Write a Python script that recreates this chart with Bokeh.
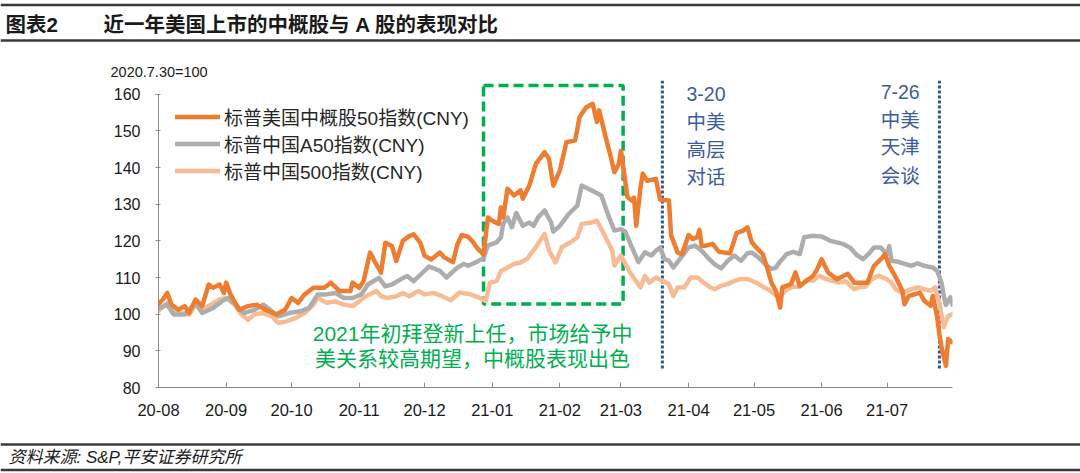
import pandas as pd
from bokeh.plotting import figure
from bokeh.models import (Range1d, FixedTicker, DatetimeTickFormatter, Legend, LegendItem)
from bokeh.layouts import column
from bokeh.embed import file_html
from bokeh.resources import INLINE
from bokeh.core.properties import value

FONT = "'Liberation Sans', 'Noto Sans CJK SC'"

# ---------------- data ----------------
cn50_dates = ["2020-07-31","2020-08-03","2020-08-05","2020-08-07","2020-08-10","2020-08-13","2020-08-15","2020-08-18",
    "2020-08-21","2020-08-24","2020-08-26","2020-08-29","2020-08-31","2020-09-01","2020-09-03","2020-09-07",
    "2020-09-11","2020-09-15","2020-09-19","2020-09-24","2020-09-28","2020-10-01","2020-10-04","2020-10-07",
    "2020-10-11","2020-10-16","2020-10-19","2020-10-23","2020-10-28","2020-10-29","2020-11-01","2020-11-03",
    "2020-11-06","2020-11-08","2020-11-11","2020-11-13","2020-11-16","2020-11-18","2020-11-21","2020-11-24",
    "2020-11-26","2020-11-29","2020-12-01","2020-12-04","2020-12-08","2020-12-10","2020-12-14","2020-12-16",
    "2020-12-18","2020-12-21","2020-12-23","2020-12-25","2020-12-28","2020-12-30","2021-01-01","2021-01-04",
    "2021-01-05","2021-01-06","2021-01-08","2021-01-11","2021-01-14","2021-01-15","2021-01-18","2021-01-21",
    "2021-01-25","2021-01-27","2021-01-29","2021-02-01","2021-02-04","2021-02-08","2021-02-10","2021-02-13",
    "2021-02-16","2021-02-18","2021-02-19","2021-02-22","2021-02-24","2021-02-26","2021-02-28","2021-03-01",
    "2021-03-04","2021-03-06","2021-03-07","2021-03-08","2021-03-10","2021-03-11","2021-03-13","2021-03-17",
    "2021-03-19","2021-03-23","2021-03-24","2021-03-27","2021-03-29","2021-04-01","2021-04-03","2021-04-05",
    "2021-04-06","2021-04-07","2021-04-09","2021-04-12","2021-04-15","2021-04-20","2021-04-23","2021-04-26",
    "2021-04-28","2021-04-30","2021-05-02","2021-05-05","2021-05-07","2021-05-09","2021-05-11","2021-05-13",
    "2021-05-14","2021-05-18","2021-05-20","2021-05-22","2021-05-25","2021-05-28","2021-05-30","2021-06-01",
    "2021-06-04","2021-06-08","2021-06-13","2021-06-16","2021-06-22","2021-06-25","2021-06-29","2021-06-30",
    "2021-07-02","2021-07-05","2021-07-08","2021-07-09","2021-07-11","2021-07-14","2021-07-16","2021-07-18",
    "2021-07-21","2021-07-22","2021-07-24","2021-07-25","2021-07-26","2021-07-28","2021-07-29","2021-07-31"]
cn50_values = [102.2,104.0,105.8,102.6,101.2,102.2,100.3,104.0,
    102.2,108.1,107.2,108.1,105.8,108.6,105.4,101.2,
    102.2,102.6,101.2,99.9,101.2,104.4,103.1,105.4,
    107.2,107.2,108.6,106.3,106.3,108.6,107.2,109.0,
    116.8,114.5,111.3,119.5,118.6,114.5,120.0,121.3,
    121.8,119.5,115.9,114.9,116.8,115.5,114.2,119.0,
    121.6,121.1,119.8,118.1,116.3,126.4,125.5,124.6,
    129.1,126.4,134.2,132.4,133.8,131.5,135.1,141.0,
    144.2,142.4,135.1,139.2,146.9,147.4,153.7,156.4,
    157.4,152.4,155.6,148.3,143.7,138.7,141.0,144.6,
    131.9,131.0,131.8,124.1,134.6,138.3,136.4,136.9,
    131.2,131.0,121.5,116.8,116.4,121.6,120.5,121.0,
    123.0,118.7,118.7,119.2,117.0,116.6,122.1,122.8,
    123.7,119.6,118.2,116.4,112.7,108.6,106.4,101.8,
    107.3,108.2,111.4,107.7,109.1,110.4,112.3,115.0,
    111.4,109.5,111.0,108.6,108.6,113.2,115.5,116.4,
    113.2,110.1,106.4,102.7,105.0,105.5,105.9,103.7,
    102.3,105.0,99.1,94.5,90.9,85.9,93.2,92.3]

a50_dates = ["2020-07-31","2020-08-05","2020-08-08","2020-08-13","2020-08-18","2020-08-21","2020-08-26","2020-08-30",
    "2020-09-02","2020-09-06","2020-09-09","2020-09-14","2020-09-18","2020-09-22","2020-09-25","2020-09-30",
    "2020-10-05","2020-10-09","2020-10-13","2020-10-17","2020-10-21","2020-10-25","2020-10-29","2020-11-02",
    "2020-11-05","2020-11-10","2020-11-13","2020-11-16","2020-11-20","2020-11-23","2020-11-26","2020-11-30",
    "2020-12-03","2020-12-08","2020-12-11","2020-12-16","2020-12-19","2020-12-21","2020-12-25","2020-12-28",
    "2020-12-30","2021-01-03","2021-01-05","2021-01-06","2021-01-08","2021-01-10","2021-01-12","2021-01-15",
    "2021-01-18","2021-01-20","2021-01-22","2021-01-25","2021-01-28","2021-01-29","2021-02-01","2021-02-05",
    "2021-02-09","2021-02-11","2021-02-17","2021-02-20","2021-02-23","2021-02-26","2021-03-01","2021-03-03",
    "2021-03-06","2021-03-09","2021-03-12","2021-03-15","2021-03-17","2021-03-19","2021-03-21","2021-03-23",
    "2021-03-25","2021-03-28","2021-04-01","2021-04-04","2021-04-07","2021-04-10","2021-04-13","2021-04-16",
    "2021-04-19","2021-04-22","2021-04-25","2021-04-28","2021-04-30","2021-05-03","2021-05-06","2021-05-09",
    "2021-05-11","2021-05-13","2021-05-16","2021-05-19","2021-05-22","2021-05-24","2021-05-28","2021-06-01",
    "2021-06-05","2021-06-08","2021-06-11","2021-06-14","2021-06-17","2021-06-20","2021-06-23","2021-06-25",
    "2021-06-28","2021-07-01","2021-07-02","2021-07-03","2021-07-06","2021-07-09","2021-07-12","2021-07-15",
    "2021-07-18","2021-07-22","2021-07-24","2021-07-26","2021-07-27","2021-07-28","2021-07-30","2021-07-31"]
a50_values = [101.3,102.6,99.9,99.9,103.1,100.3,101.7,103.5,
    104.4,102.2,100.3,101.2,102.6,100.8,99.4,100.3,
    100.8,101.7,105.4,105.4,105.8,104.4,104.4,105.4,
    108.1,109.9,107.6,108.1,109.5,110.4,109.0,111.3,
    113.0,111.8,110.0,112.7,113.7,113.2,114.3,115.3,
    118.7,119.6,121.0,124.6,126.4,123.7,127.6,124.1,
    125.0,124.1,126.4,128.3,125.0,122.5,124.1,127.3,
    129.6,135.1,133.3,132.4,127.3,122.8,123.2,122.5,
    118.3,114.2,116.9,116.0,117.3,118.2,115.0,114.6,
    112.7,115.0,118.2,118.7,117.3,115.3,113.6,112.5,
    114.6,116.0,114.6,116.6,116.8,115.5,113.7,112.3,
    112.7,114.4,116.4,117.0,116.4,121.0,121.4,121.2,
    120.0,119.6,119.1,118.2,116.2,115.0,116.7,118.2,
    118.2,116.4,118.6,114.6,114.3,113.7,113.2,113.9,
    113.2,112.7,111.8,108.5,105.0,102.5,104.6,102.6]

c500_dates = ["2020-07-31","2020-08-05","2020-08-07","2020-08-12","2020-08-15","2020-08-18","2020-08-21","2020-08-25",
    "2020-08-29","2020-09-01","2020-09-05","2020-09-08","2020-09-11","2020-09-14","2020-09-18","2020-09-22",
    "2020-09-25","2020-09-29","2020-10-03","2020-10-07","2020-10-11","2020-10-13","2020-10-17","2020-10-21",
    "2020-10-25","2020-10-29","2020-11-01","2020-11-04","2020-11-09","2020-11-11","2020-11-14","2020-11-18",
    "2020-11-21","2020-11-24","2020-11-28","2020-12-01","2020-12-05","2020-12-09","2020-12-13","2020-12-17",
    "2020-12-22","2020-12-26","2020-12-29","2020-12-31","2021-01-03","2021-01-05","2021-01-08","2021-01-11",
    "2021-01-14","2021-01-17","2021-01-21","2021-01-25","2021-01-27","2021-01-30","2021-02-02","2021-02-06",
    "2021-02-09","2021-02-11","2021-02-16","2021-02-18","2021-02-22","2021-02-25","2021-02-26","2021-03-01",
    "2021-03-05","2021-03-08","2021-03-10","2021-03-12","2021-03-14","2021-03-17","2021-03-20","2021-03-23",
    "2021-03-25","2021-03-27","2021-03-30","2021-04-02","2021-04-05","2021-04-08","2021-04-11","2021-04-13",
    "2021-04-16","2021-04-19","2021-04-22","2021-04-25","2021-04-28","2021-05-02","2021-05-05","2021-05-08",
    "2021-05-11","2021-05-14","2021-05-16","2021-05-19","2021-05-22","2021-05-25","2021-05-28","2021-05-31",
    "2021-06-03","2021-06-06","2021-06-09","2021-06-12","2021-06-16","2021-06-18","2021-06-21","2021-06-24",
    "2021-06-27","2021-07-01","2021-07-03","2021-07-05","2021-07-08","2021-07-11","2021-07-15","2021-07-18",
    "2021-07-21","2021-07-23","2021-07-25","2021-07-27","2021-07-29","2021-07-31"]
c500_values = [100.3,103.1,101.2,100.3,99.9,102.6,101.2,102.6,
    104.0,104.4,102.6,99.9,98.5,99.9,100.3,99.4,
    97.6,98.1,99.0,100.3,102.6,104.4,103.1,103.5,
    102.6,102.2,103.5,104.9,106.3,104.9,104.4,104.9,
    105.8,104.9,106.3,105.4,105.8,104.9,103.8,105.9,
    105.4,104.5,103.6,108.6,109.1,111.8,112.7,113.7,
    114.1,115.1,118.3,121.9,117.4,114.1,118.3,119.6,
    121.0,124.6,125.1,125.5,121.0,117.4,113.3,116.0,
    111.5,109.0,107.3,110.4,108.6,110.0,109.1,108.2,
    105.0,107.3,107.3,110.0,110.0,108.6,107.3,106.8,
    107.8,108.2,109.1,109.6,109.6,108.6,107.5,106.6,
    105.2,105.5,106.8,107.5,107.5,109.3,109.1,110.5,
    109.6,109.1,108.6,109.0,106.8,107.3,107.5,109.5,
    110.5,109.5,108.6,106.8,105.8,106.6,107.3,106.8,
    106.4,107.3,103.0,96.5,99.5,100.0]

series_names = ["标普美国中概股50指数(CNY)", "标普中国A50指数(CNY)", "标普中国500指数(CNY)"]
series_colors = ["#ED7D31", "#ADADAD", "#F6BC96"]

month_ticks = ["2020-08-01","2020-09-01","2020-10-01","2020-11-01","2020-12-01","2021-01-01",
               "2021-02-01","2021-03-01","2021-04-01","2021-05-01","2021-06-01","2021-07-01"]
y_ticks = [80, 90, 100, 110, 120, 130, 140, 150, 160]
y_unit_text = "2020.7.30=100"

box_dates = ["2020-12-28", "2021-03-02"]
box_values = [102.8, 162.4]
box_note = ["2021年初拜登新上任，市场给予中", "美关系较高期望，中概股表现出色"]
box_note_date = "2020-12-23"
box_note_values = [94.7, 87.9]

event_dates = ["2021-03-20", "2021-07-25"]
event_span = [85.2, 164.2]
event_label_dates = ["2021-04-09", "2021-07-07"]
event_labels = [["3-20", "中美", "高层", "对话"], ["7-26", "中美", "天津", "会谈"]]
event_label_values = [[160.1, 152.4, 144.9, 137.4], [160.5, 153.1, 145.5, 137.8]]

title_texts = ["图表2", "近一年美国上市的中概股与 A 股的表现对比"]
source_text = "资料来源: S&P,平安证券研究所"

W = 1080
TOP_H = 80
MAIN_H = 350
FOOT_H = 43
Y_TOP = 80 + (387 - TOP_H) / 3.666   # value at frame top edge


def banner(h):
    b = figure(width=W, height=h, x_range=Range1d(0, W), y_range=Range1d(h, 0),
               x_axis_type=None, y_axis_type=None, output_backend="svg",
               toolbar_location=None, min_border=0, min_border_left=0,
               min_border_right=0, min_border_top=0, min_border_bottom=0)
    b.frame_align = False
    b.outline_line_color = None
    return b


# ---------------- title banner ----------------
t = banner(TOP_H)
t.segment(x0=[0, 0], y0=[4.5, 40], x1=[W, W], y1=[4.5, 40],
          line_color="#3a3a3a", line_width=2.5)
t.text(x=[5, 103], y=[23.5, 23.5], text=title_texts,
       text_font=value(FONT), text_font_size="20.5px", text_font_style="bold",
       text_baseline="middle", text_align="left", text_color="#1a1a1a")
t.text(x=[110], y=[79], text=[y_unit_text], text_font=value(FONT),
       text_font_size="14.5px", text_baseline="bottom", text_align="left",
       text_color="#1a1a1a")

# ---------------- main chart ----------------
p = figure(width=W, height=MAIN_H, x_axis_type="datetime",
           x_range=Range1d(pd.Timestamp("2020-08-01"), pd.Timestamp("2021-07-31")),
           y_range=Range1d(80, Y_TOP), output_backend="svg", toolbar_location=None,
           min_border_left=158, min_border_right=128, min_border_top=0,
           min_border_bottom=TOP_H + MAIN_H - 387)
p.frame_align = False
p.outline_line_color = None
p.xgrid.visible = False
p.ygrid.visible = False

# green dashed box
p.quad(left=[pd.Timestamp(box_dates[0])], right=[pd.Timestamp(box_dates[1])],
       bottom=[box_values[0]], top=[box_values[1]], fill_color=None,
       line_color="#00B050", line_width=3.5, line_dash="10 5")

# event dotted lines
ev = pd.to_datetime(event_dates)
p.segment(x0=ev, y0=[event_span[0]] * 2, x1=ev, y1=[event_span[1]] * 2,
          line_color="#2F5597", line_width=3, line_dash="3 2")

# series (light first so orange is on top)
r500 = p.line(pd.to_datetime(c500_dates), c500_values, line_color=series_colors[2],
              line_width=4.5, line_join="round", line_cap="round")
ra50 = p.line(pd.to_datetime(a50_dates), a50_values, line_color=series_colors[1],
              line_width=4.5, line_join="round", line_cap="round")
r50 = p.line(pd.to_datetime(cn50_dates), cn50_values, line_color=series_colors[0],
             line_width=4.5, line_join="round", line_cap="round")

# annotation texts
p.text(x=[pd.Timestamp(box_note_date)] * 2, y=box_note_values, text=box_note,
       text_font=value(FONT), text_font_size="21px", text_color="#00B050",
       text_align="center", text_baseline="middle")
for d, labs, ys in zip(event_label_dates, event_labels, event_label_values):
    p.text(x=[pd.Timestamp(d)] * len(labs), y=ys, text=labs,
           text_font=value(FONT), text_font_size="19.5px", text_color="#3E5C9A",
           text_align="center", text_baseline="middle")

# axes
AX = "#8C8C8C"
yax = p.yaxis[0]
yax.ticker = FixedTicker(ticks=y_ticks)
yax.bounds = (80, 160)
yax.axis_line_color = AX
yax.major_tick_line_color = AX
yax.minor_tick_line_color = None
yax.major_tick_out = 3
yax.major_tick_in = 2
yax.major_label_standoff = 15
yax.major_label_text_font = FONT
yax.major_label_text_font_size = "16px"
yax.major_label_text_color = "#1a1a1a"

xax = p.xaxis[0]
xax.ticker = FixedTicker(ticks=[pd.Timestamp(m).value // 10**6 for m in month_ticks])
xax.formatter = DatetimeTickFormatter(days="%y-%m", months="%y-%m", years="%y-%m")
xax.axis_line_color = AX
xax.major_tick_line_color = AX
xax.minor_tick_line_color = None
xax.major_tick_out = 0
xax.major_tick_in = 5
xax.major_label_standoff = 16
xax.major_label_text_font = FONT
xax.major_label_text_font_size = "16.5px"
xax.major_label_text_color = "#1a1a1a"

legend = Legend(items=[LegendItem(label=series_names[0], renderers=[r50]),
                       LegendItem(label=series_names[1], renderers=[ra50]),
                       LegendItem(label=series_names[2], renderers=[r500])],
                location=(17, 203.5), orientation="vertical", glyph_width=45,
                glyph_height=27, label_height=27, spacing=0, padding=0, margin=0,
                label_standoff=4, border_line_color=None, background_fill_alpha=0,
                label_text_font=FONT, label_text_font_size="19px",
                label_text_color="#262626")
p.add_layout(legend)

# ---------------- footer ----------------
f = banner(FOOT_H)
f.segment(x0=[0, 0], y0=[14, 39.5], x1=[W, W], y1=[14, 39.5],
          line_color="#3a3a3a", line_width=2.5)
f.text(x=[8], y=[27], text=[source_text], text_font=value(FONT),
       text_font_size="17px", text_font_style="italic", text_baseline="middle",
       text_align="left", text_color="#1a1a1a")

layout = column(t, p, f, spacing=0)
open("out.html", "w").write(file_html(layout, INLINE))
